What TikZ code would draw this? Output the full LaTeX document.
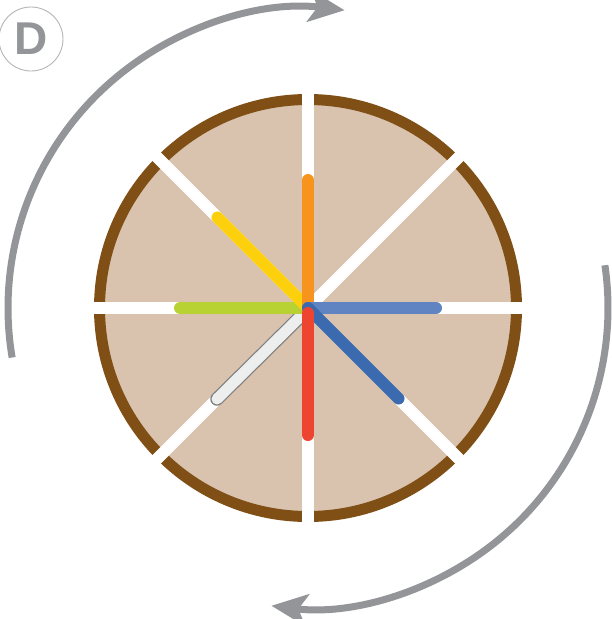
\documentclass[tikz,border=0pt]{standalone}
\usepackage{tikz}
\usetikzlibrary{calc, arrows.meta}
\usepackage{fontspec}
\setsansfont{Liberation Sans}

\definecolor{rimbrown}{HTML}{7F4F16}
\definecolor{pietan}{HTML}{D9C3AE}
\definecolor{arrowgray}{HTML}{939598}
\definecolor{spokeorange}{HTML}{F7941D}
\definecolor{spokeyellow}{HTML}{FDD00D}
\definecolor{spokegreen}{HTML}{B8D233}
\definecolor{spokered}{HTML}{EE4530}
\definecolor{spokeblue}{HTML}{3C6AAF}
\definecolor{spokesky}{HTML}{5F84C1}
\definecolor{spokepale}{HTML}{EDEEEE}

\tikzset{
    spoke/.style={line width=12pt, line cap=round},
    turnarrow/.style={arrowgray, line width=7pt,
        -{Stealth[length=36pt, width=32pt, inset=9pt]}},
}

\begin{document}
\begin{tikzpicture}[x=1pt, y=1pt]
    \useasboundingbox (0,0) rectangle (611,-619);

    \pgfmathsetmacro{\rpie}{208.5}
    \pgfmathsetmacro{\rturn}{300}

    \coordinate (C) at (308,-308);

    % pie
    \fill[pietan] (C) circle (\rpie);
    \draw[rimbrown, line width=11pt] (C) circle (\rpie);
    \foreach \a in {0,45,...,315}
        \draw[white, line width=12pt] (C) -- ($(C)+(\a:222)$);

    % coloured spokes
    \coordinate (Pale1) at (300,-317);
    \coordinate (Pale2) at (217,-399);
    \draw[gray, spoke, line width=13.5pt] (Pale1) -- (Pale2);
    \draw[spokepale, spoke, line width=11pt] (Pale1) -- (Pale2);

    \draw[spokegreen, spoke] (C) -- ($(C)+(180:128)$);
    \draw[spokeyellow, spoke] (C) -- ($(C)+(135:128)$);
    \draw[spokeorange, spoke] (C) -- ($(C)+(90:128)$);
    \draw[spokesky, spoke] (C) -- ($(C)+(0:128)$);
    \draw[spokeblue, spoke] (C) -- ($(C)+(-45:128)$);
    \draw[spokered, spoke] ($(C)+(0,-5)$) -- ($(C)+(-90:127)$);

    % turning arrows
    \draw[turnarrow] ($(C)+(189.5:\rturn)$)
        arc[start angle=189.5, end angle=83, radius=\rturn];
    \draw[turnarrow] ($(C)+(8.2:\rturn)$)
        arc[start angle=8.2, end angle=-97, radius=\rturn];

    % label
    \node[draw=arrowgray!70, line width=0.9pt, circle, minimum size=64pt,
        inner sep=0pt, text=arrowgray, font=\sffamily\bfseries\fontsize{46}{46}\selectfont]
        (label) at (31,-39) {D};

\end{tikzpicture}
\end{document}
